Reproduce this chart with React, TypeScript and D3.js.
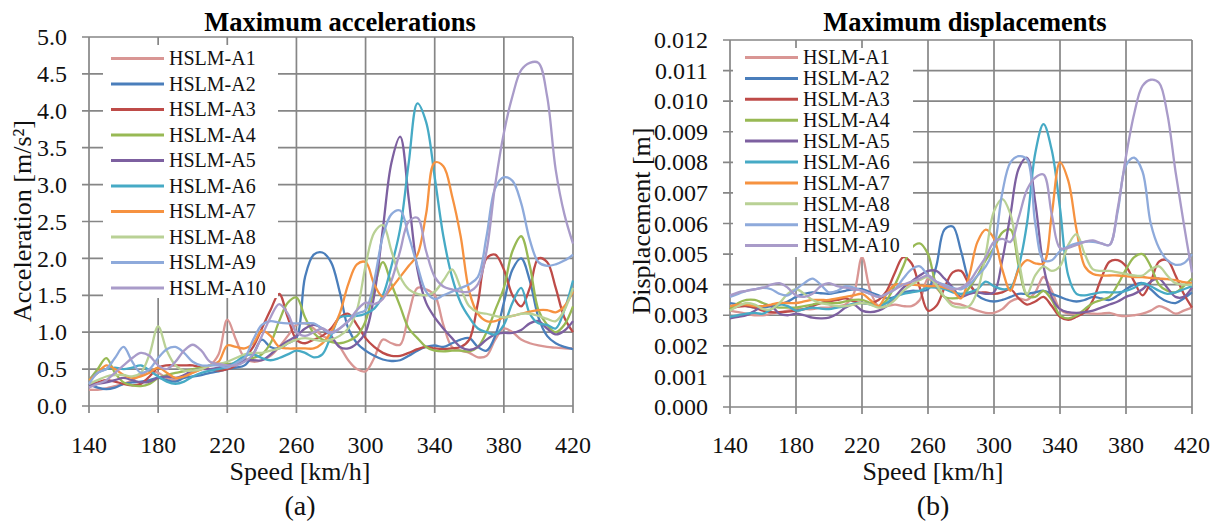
import { useEffect, useRef } from "react";
import * as d3 from "d3";

// speeds in km/h
const speeds = [
  140, 145, 150, 155, 160, 165, 170, 175,
  180, 185, 190, 195, 200, 205, 210, 215,
  220, 225, 230, 235, 240, 245, 250, 255,
  260, 265, 270, 275, 280, 285, 290, 295,
  300, 305, 310, 315, 320, 325, 330, 335,
  340, 345, 350, 355, 360, 365, 370, 375,
  380, 385, 390, 395, 400, 405, 410, 415,
  420,
];

const speedTicks = [140, 180, 220, 260, 300, 340, 380, 420];
const accTicks = [0, 0.5, 1.0, 1.5, 2.0, 2.5, 3.0, 3.5, 4.0, 4.5, 5.0];
const dispTicks = [0, 0.001, 0.002, 0.003, 0.004, 0.005, 0.006, 0.007, 0.008, 0.009, 0.01, 0.011, 0.012];

const seriesNames = [
  "HSLM-A1", "HSLM-A2", "HSLM-A3", "HSLM-A4", "HSLM-A5",
  "HSLM-A6", "HSLM-A7", "HSLM-A8", "HSLM-A9", "HSLM-A10",
];
const seriesColors = [
  "#d99694", "#4a7ebb", "#be4b48", "#98b954", "#7d60a0",
  "#46aac5", "#f69240", "#b9d195", "#8eaadb", "#a99bc9",
];

// maximum accelerations [m/s2]
const accA1 = [
  0.22, 0.22, 0.24, 0.27, 0.30, 0.35, 0.42, 0.48,
  0.45, 0.38, 0.35, 0.40, 0.45, 0.50, 0.55, 0.70,
  1.17, 0.90, 0.65, 0.60, 0.62, 0.68, 0.80, 0.95,
  1.10, 1.12, 1.05, 0.95, 0.90, 0.80, 0.62, 0.50,
  0.47, 0.65, 0.90, 0.85, 0.83, 1.25, 1.60, 1.58,
  1.50, 1.10, 0.80, 0.75, 0.72, 0.66, 0.68, 0.90,
  1.05, 1.00, 0.90, 0.85, 0.82, 0.80, 0.79, 0.78,
  0.78,
];
const accA2 = [
  0.30, 0.25, 0.23, 0.25, 0.30, 0.32, 0.33, 0.35,
  0.38, 0.35, 0.33, 0.38, 0.40, 0.42, 0.45, 0.47,
  0.50, 0.52, 0.55, 0.70, 0.90, 0.80, 0.78, 0.85,
  0.92, 1.75, 2.05, 2.08, 1.95, 1.55, 1.05, 0.85,
  0.75, 0.68, 0.63, 0.61, 0.62, 0.68, 0.75, 0.80,
  0.82, 0.80, 0.85, 0.90, 0.92, 0.80, 0.75, 0.95,
  1.40, 1.85, 2.00, 1.70, 1.20, 0.95, 0.85, 0.80,
  0.77,
];
const accA3 = [
  0.30, 0.32, 0.35, 0.33, 0.30, 0.28, 0.30, 0.40,
  0.52, 0.55, 0.55, 0.55, 0.55, 0.52, 0.50, 0.48,
  0.50, 0.55, 0.65, 0.80, 1.05, 1.30, 1.52, 1.20,
  0.90, 0.85, 0.90, 0.95, 1.05, 1.20, 1.25, 1.10,
  0.92, 0.80, 0.72, 0.68, 0.68, 0.72, 0.77, 0.80,
  0.78, 0.77, 0.78, 0.80, 0.90, 1.40, 2.00, 2.05,
  1.85, 1.50, 1.35, 1.60, 2.00, 1.95, 1.60, 1.20,
  1.00,
];
const accA4 = [
  0.35, 0.50, 0.65, 0.45, 0.32, 0.28, 0.27, 0.30,
  0.38, 0.42, 0.45, 0.47, 0.50, 0.52, 0.55, 0.57,
  0.57, 0.58, 0.62, 0.65, 0.70, 0.85, 1.15, 1.40,
  1.47, 1.20, 0.99, 0.90, 0.87, 0.85, 0.88, 0.95,
  1.15, 1.60, 1.95, 1.65, 1.35, 1.05, 0.92, 0.80,
  0.75, 0.74, 0.75, 0.75, 0.74, 0.80, 1.00, 1.30,
  1.60, 2.10, 2.30, 1.90, 1.30, 1.10, 1.00, 1.10,
  1.35,
];
const accA5 = [
  0.28, 0.30, 0.32, 0.35, 0.38, 0.35, 0.32, 0.33,
  0.38, 0.40, 0.38, 0.42, 0.48, 0.50, 0.50, 0.52,
  0.55, 0.58, 0.62, 0.62, 0.62, 0.70, 0.80, 0.88,
  0.95, 1.05, 1.10, 1.05, 0.95, 0.80, 0.78, 0.85,
  1.00, 1.50, 2.40, 3.30, 3.65, 2.80, 1.85, 1.40,
  1.20, 1.05, 0.92, 0.80, 0.76, 0.80, 0.90, 0.97,
  0.99, 0.99, 1.03, 1.12, 1.15, 1.05, 0.97, 1.02,
  1.15,
];
const accA6 = [
  0.35, 0.45, 0.50, 0.52, 0.50, 0.52, 0.55, 0.48,
  0.40, 0.33, 0.30, 0.33, 0.40, 0.45, 0.48, 0.50,
  0.53, 0.60, 0.68, 0.70, 0.65, 0.62, 0.65, 0.70,
  0.75, 0.72, 0.66, 0.70, 0.95, 1.20, 1.22, 1.22,
  1.25, 1.32, 1.50, 1.90, 2.40, 3.30, 4.10, 3.85,
  3.10, 2.30, 1.75, 1.40, 1.20, 1.05, 1.00, 0.97,
  1.10, 1.40, 1.60, 1.25, 1.12, 1.10, 1.05, 1.30,
  1.70,
];
const accA7 = [
  0.35, 0.45, 0.55, 0.50, 0.42, 0.38, 0.40, 0.45,
  0.52, 0.45, 0.38, 0.40, 0.45, 0.50, 0.55, 0.60,
  0.82, 0.80, 0.78, 0.85, 1.02, 0.95, 0.80, 0.78,
  0.78, 0.78, 0.78, 0.85, 1.00, 1.25, 1.65, 1.92,
  1.95, 1.65, 1.48, 1.60, 1.75, 1.90, 2.05, 2.60,
  3.30, 3.25, 2.85, 2.30, 1.55, 1.25, 1.15, 1.15,
  1.20, 1.22, 1.25, 1.28, 1.30, 1.30, 1.27, 1.35,
  1.55,
];
const accA8 = [
  0.30, 0.35, 0.40, 0.42, 0.42, 0.40, 0.45, 0.70,
  1.08, 0.75, 0.55, 0.48, 0.48, 0.50, 0.55, 0.57,
  0.60, 0.65, 0.70, 0.72, 0.72, 0.75, 0.78, 0.85,
  0.90, 0.92, 0.90, 0.88, 0.90, 0.95, 1.05, 1.30,
  1.90, 2.35, 2.45, 2.10, 1.75, 1.58, 1.52, 1.50,
  1.55, 1.70, 1.85, 1.60, 1.35, 1.27, 1.25, 1.22,
  1.20, 1.22, 1.25, 1.25, 1.22, 1.18, 1.15, 1.30,
  1.60,
];
const accA9 = [
  0.30, 0.45, 0.50, 0.65, 0.80, 0.60, 0.45, 0.50,
  0.65, 0.77, 0.80, 0.72, 0.60, 0.55, 0.55, 0.55,
  0.52, 0.58, 0.65, 0.90, 1.10, 1.15, 1.13, 1.12,
  1.12, 1.12, 1.12, 1.05, 0.98, 1.05, 1.15, 1.25,
  1.30, 1.70, 2.30, 2.60, 2.65, 2.30, 1.90, 1.55,
  1.45, 1.50, 1.55, 1.60, 1.65, 1.75, 2.30, 2.95,
  3.10, 3.05, 2.75, 2.25, 1.95, 1.90, 1.92, 1.97,
  2.05,
];
const accA10 = [
  0.25, 0.30, 0.35, 0.45, 0.55, 0.65, 0.72, 0.68,
  0.55, 0.50, 0.60, 0.75, 0.83, 0.75, 0.60, 0.57,
  0.55, 0.55, 0.60, 0.70, 0.95, 1.20, 1.38, 1.25,
  1.00, 0.95, 1.00, 1.05, 1.00, 1.05, 1.15, 1.30,
  1.40, 1.38, 1.45, 1.70, 2.10, 2.50, 2.55, 2.10,
  1.75, 1.62, 1.58, 1.55, 1.55, 1.65, 2.10, 3.00,
  3.70, 4.20, 4.55, 4.65, 4.65, 4.20, 3.20, 2.60,
  2.20,
];

// maximum displacements [m]
const dispA1 = [
  0.00315, 0.0031, 0.00305, 0.003, 0.003, 0.00305, 0.0031, 0.00315,
  0.0032, 0.0032, 0.0032, 0.00325, 0.00325, 0.0033, 0.00335, 0.0037,
  0.0049, 0.0038, 0.0033, 0.0033, 0.00335, 0.0033, 0.0033, 0.0035,
  0.0042, 0.0039, 0.0036, 0.0034, 0.00335, 0.00325, 0.00315, 0.00308,
  0.00308, 0.0032, 0.00345, 0.00355, 0.0035, 0.00375, 0.00425, 0.0038,
  0.0032, 0.00305, 0.00305, 0.00308, 0.00305, 0.00305, 0.00308, 0.003,
  0.00297, 0.003, 0.00305, 0.00315, 0.0033, 0.0032, 0.00305, 0.00315,
  0.00325,
];
const dispA2 = [
  0.0034, 0.00335, 0.0033, 0.00325, 0.00325, 0.0033, 0.00335, 0.00345,
  0.0036, 0.0037, 0.00375, 0.00372, 0.0037, 0.00375, 0.0038, 0.00385,
  0.00385, 0.00375, 0.00365, 0.00355, 0.0036, 0.00375, 0.0038, 0.0038,
  0.00385, 0.0046, 0.0058, 0.0059, 0.0051, 0.0041, 0.00365, 0.0035,
  0.00345, 0.0035, 0.0036, 0.0037, 0.0037, 0.00375, 0.0038, 0.0037,
  0.0036, 0.0035, 0.00345, 0.0035, 0.0036, 0.00355, 0.0035, 0.00365,
  0.00385, 0.004, 0.00405, 0.00385, 0.0036, 0.00345, 0.0034, 0.00355,
  0.00375,
];
const dispA3 = [
  0.0032, 0.00328, 0.0033, 0.00325, 0.00315, 0.0031, 0.0031, 0.00312,
  0.00315, 0.0032, 0.0033, 0.0034, 0.00345, 0.0035, 0.00355, 0.00345,
  0.0034, 0.0034, 0.0035, 0.0038, 0.0044, 0.0049, 0.0047, 0.0039,
  0.00315, 0.0033, 0.0039, 0.0044, 0.00445, 0.004, 0.00375, 0.00375,
  0.0037, 0.00375, 0.00385, 0.00355, 0.00335, 0.00345, 0.0036, 0.0033,
  0.00295, 0.00285, 0.00295, 0.0031, 0.0035, 0.0042, 0.00475, 0.0048,
  0.0046, 0.0041, 0.00365, 0.0041, 0.00475, 0.0048, 0.0043, 0.0037,
  0.00325,
];
const dispA4 = [
  0.0032, 0.0034, 0.0035, 0.0035, 0.0034, 0.0033, 0.00325, 0.00325,
  0.00325, 0.0033, 0.00335, 0.0034, 0.0034, 0.0034, 0.00345, 0.0035,
  0.0035, 0.0034, 0.0033, 0.0035, 0.004, 0.0046, 0.0052, 0.00535,
  0.005, 0.004, 0.0036, 0.00355, 0.0036, 0.0039, 0.0043, 0.0048,
  0.0052, 0.0057, 0.0058, 0.0046, 0.00365, 0.0036, 0.0038, 0.0035,
  0.003, 0.0029, 0.003, 0.0032, 0.0034, 0.0035, 0.0036, 0.004,
  0.0045, 0.0049, 0.005, 0.0046, 0.004, 0.0038, 0.00375, 0.00395,
  0.0042,
];
const dispA5 = [
  0.0029, 0.00295, 0.003, 0.00315, 0.0033, 0.0033, 0.00305, 0.003,
  0.00305, 0.003, 0.00292, 0.0029, 0.00292, 0.00305, 0.00325, 0.00335,
  0.00315, 0.0031, 0.00315, 0.0033, 0.0036, 0.0039, 0.0041, 0.0043,
  0.00445, 0.00445, 0.0042, 0.0039, 0.0036, 0.0037, 0.00375, 0.0037,
  0.00375, 0.0048, 0.0063, 0.0078, 0.00815, 0.0067, 0.0046, 0.0036,
  0.0032, 0.0031, 0.00308, 0.0031, 0.00315, 0.00325, 0.00335, 0.00345,
  0.0036, 0.0037, 0.00385, 0.0041, 0.0042, 0.0039, 0.0036, 0.0036,
  0.0039,
];
const dispA6 = [
  0.00295, 0.003, 0.00305, 0.00308, 0.00305, 0.0032, 0.00335, 0.0033,
  0.00315, 0.0032, 0.00325, 0.00322, 0.0032, 0.00325, 0.0033, 0.00338,
  0.0034, 0.00335, 0.0033, 0.0034, 0.0036, 0.0037, 0.00375, 0.0038,
  0.0039, 0.0039, 0.00385, 0.00375, 0.0037, 0.00375, 0.00385, 0.0041,
  0.00395, 0.00385, 0.0039, 0.0046, 0.006, 0.0083, 0.00925, 0.0084,
  0.0065, 0.0043, 0.0037, 0.00365, 0.0037, 0.00375, 0.00375, 0.00375,
  0.0038, 0.0039, 0.00405, 0.00395, 0.0038, 0.0037, 0.00375, 0.00385,
  0.00395,
];
const dispA7 = [
  0.0033, 0.00335, 0.00335, 0.0033, 0.0033, 0.00335, 0.0034, 0.0034,
  0.0034, 0.00345, 0.0035, 0.0035, 0.0035, 0.00355, 0.0036, 0.00365,
  0.0037, 0.0035, 0.0033, 0.0037, 0.004, 0.004, 0.004, 0.00398,
  0.00395, 0.00395, 0.0039, 0.0038, 0.00355, 0.0043, 0.0054, 0.0058,
  0.0055, 0.0045, 0.0038, 0.0045, 0.0048, 0.0047, 0.0047, 0.0063,
  0.008, 0.0074, 0.0058, 0.0046, 0.00435, 0.0043, 0.0043, 0.0043,
  0.00428, 0.00425, 0.00425, 0.00422, 0.0042, 0.00418, 0.00415, 0.00408,
  0.00405,
];
const dispA8 = [
  0.00315, 0.0033, 0.0034, 0.00335, 0.0032, 0.0032, 0.0034, 0.0037,
  0.00385, 0.0037, 0.0035, 0.0034, 0.00335, 0.0033, 0.0033, 0.00335,
  0.0034, 0.00335, 0.00325, 0.0033, 0.0035, 0.0038, 0.004, 0.00415,
  0.00425, 0.004, 0.0036, 0.0033, 0.00325, 0.0033, 0.0038, 0.005,
  0.0064, 0.0068, 0.0063, 0.0048, 0.0037, 0.0043, 0.0046, 0.00445,
  0.0046, 0.0053, 0.00565, 0.005, 0.0045, 0.00445, 0.00445, 0.0044,
  0.00435, 0.0043, 0.0043, 0.0045, 0.0046, 0.0043, 0.00405, 0.004,
  0.004,
];
const dispA9 = [
  0.0036, 0.0037, 0.0038, 0.00385, 0.0039, 0.00385, 0.0037, 0.00365,
  0.00385, 0.00405, 0.0042, 0.004, 0.00375, 0.0038, 0.00395, 0.0039,
  0.0038, 0.0037, 0.0036, 0.0037, 0.00385, 0.0042, 0.0045, 0.0046,
  0.0043, 0.0041, 0.004, 0.0039, 0.00385, 0.004, 0.0043, 0.0046,
  0.0052, 0.007, 0.008, 0.0082, 0.0081, 0.006, 0.0048, 0.0048,
  0.0051, 0.00525, 0.00535, 0.0054, 0.0054, 0.00535, 0.0053, 0.0064,
  0.0079, 0.00815, 0.0077, 0.006, 0.0052, 0.0048, 0.00465, 0.0047,
  0.005,
];
const dispA10 = [
  0.00365, 0.00375, 0.0038, 0.00385, 0.0039, 0.004, 0.00405, 0.0039,
  0.00365, 0.0036, 0.0037, 0.00395, 0.00405, 0.00395, 0.0039, 0.00385,
  0.0038, 0.0037, 0.0036, 0.0037, 0.00385, 0.004, 0.0041, 0.0042,
  0.0043, 0.0041, 0.00395, 0.00385, 0.0039, 0.0041, 0.0045, 0.0049,
  0.0054, 0.0055, 0.0054, 0.0062, 0.0071, 0.0075, 0.0076, 0.0063,
  0.0052, 0.0052, 0.0053, 0.0054, 0.00545, 0.00535, 0.0053, 0.0065,
  0.0082, 0.0096, 0.0105, 0.0107, 0.0106, 0.0096, 0.0077, 0.006,
  0.0044,
];

const accSeries = [accA1, accA2, accA3, accA4, accA5, accA6, accA7, accA8, accA9, accA10];
const dispSeries = [dispA1, dispA2, dispA3, dispA4, dispA5, dispA6, dispA7, dispA8, dispA9, dispA10];

const FONT = "'Liberation Serif', 'Times New Roman', serif";
const GRID = "#868686";

type Panel = {
  left: number;
  right: number;
  top: number;
  bottom: number;
  yMax: number;
  yTicks: number[];
  yFormat: (v: number) => string;
  series: number[][];
  title: string;
  titleX: number;
  yLabel: string;
  yLabelX: number;
  xLabelX: number;
  tag: string;
  legend: { x: number; y: number; w: number; h: number; lineX: number; rowY: number; rowStep: number };
};

function drawPanel(svg: d3.Selection<SVGSVGElement, unknown, null, undefined>, p: Panel) {
  const x = d3.scaleLinear().domain([140, 420]).range([p.left, p.right]);
  const y = d3.scaleLinear().domain([0, p.yMax]).range([p.bottom, p.top]);
  const g = svg.append("g");

  // grid + ticks
  g.selectAll("line.hgrid")
    .data(p.yTicks)
    .join("line")
    .attr("x1", p.left - 7)
    .attr("x2", p.right)
    .attr("y1", (d) => y(d))
    .attr("y2", (d) => y(d))
    .attr("stroke", GRID)
    .attr("stroke-width", 1.7);

  g.selectAll("line.vgrid")
    .data(speedTicks)
    .join("line")
    .attr("x1", (d) => x(d))
    .attr("x2", (d) => x(d))
    .attr("y1", p.top)
    .attr("y2", p.bottom + 7)
    .attr("stroke", GRID)
    .attr("stroke-width", 1.7);

  // tick labels
  g.selectAll("text.ylab")
    .data(p.yTicks)
    .join("text")
    .attr("x", p.left - 22)
    .attr("y", (d) => y(d))
    .attr("dy", "0.34em")
    .attr("text-anchor", "end")
    .attr("font-family", FONT)
    .attr("font-size", 24)
    .attr("fill", "#111")
    .text((d) => p.yFormat(d));

  g.selectAll("text.xlab")
    .data(speedTicks)
    .join("text")
    .attr("x", (d) => x(d))
    .attr("y", 453)
    .attr("text-anchor", "middle")
    .attr("font-family", FONT)
    .attr("font-size", 24)
    .attr("fill", "#111")
    .text((d) => String(d));

  // series
  const line = d3
    .line<number>()
    .x((_, i) => x(speeds[i]))
    .y((d) => y(d))
    .curve(d3.curveCatmullRom.alpha(0.5));

  p.series.forEach((vals, i) => {
    g.append("path")
      .attr("d", line(vals) ?? "")
      .attr("fill", "none")
      .attr("stroke", seriesColors[i])
      .attr("stroke-width", 2.3)
      .attr("stroke-linejoin", "round");
  });

  // legend
  const L = p.legend;
  g.append("rect")
    .attr("x", L.x)
    .attr("y", L.y)
    .attr("width", L.w)
    .attr("height", L.h)
    .attr("fill", "white");

  seriesNames.forEach((name, i) => {
    const cy = L.rowY + i * L.rowStep;
    g.append("line")
      .attr("x1", L.lineX)
      .attr("x2", L.lineX + 53)
      .attr("y1", cy)
      .attr("y2", cy)
      .attr("stroke", seriesColors[i])
      .attr("stroke-width", 3);
    g.append("text")
      .attr("x", L.lineX + 58)
      .attr("y", cy)
      .attr("dy", "0.34em")
      .attr("font-family", FONT)
      .attr("font-size", 20)
      .attr("fill", "#111")
      .text(name);
  });

  // titles
  g.append("text")
    .attr("x", p.titleX)
    .attr("y", 31)
    .attr("text-anchor", "middle")
    .attr("font-family", FONT)
    .attr("font-weight", "bold")
    .attr("font-size", 26.5)
    .text(p.title);

  g.append("text")
    .attr("transform", `translate(${p.yLabelX},221) rotate(-90)`)
    .attr("text-anchor", "middle")
    .attr("font-family", FONT)
    .attr("font-size", 26)
    .attr("fill", "#111")
    .text(p.yLabel);

  g.append("text")
    .attr("x", p.xLabelX)
    .attr("y", 480)
    .attr("text-anchor", "middle")
    .attr("font-family", FONT)
    .attr("font-size", 26)
    .attr("fill", "#111")
    .text("Speed [km/h]");

  g.append("text")
    .attr("x", p.xLabelX)
    .attr("y", 515)
    .attr("text-anchor", "middle")
    .attr("font-family", FONT)
    .attr("font-size", 28)
    .attr("fill", "#111")
    .text(p.tag);
}

export default function App() {
  const svgRef = useRef<SVGSVGElement | null>(null);

  useEffect(() => {
    if (!svgRef.current) return;
    const svg = d3.select(svgRef.current);
    svg.selectAll("*").remove();

    svg.append("rect").attr("width", 1220).attr("height", 523).attr("fill", "white");

    drawPanel(svg, {
      left: 89,
      right: 573,
      top: 37,
      bottom: 406,
      yMax: 5,
      yTicks: accTicks,
      yFormat: d3.format(".1f"),
      series: accSeries,
      title: "Maximum accelerations",
      titleX: 340,
      yLabel: "Acceleration [m/s²]",
      yLabelX: 31,
      xLabelX: 300,
      tag: "(a)",
      legend: { x: 103, y: 45, w: 175, h: 253, lineX: 111, rowY: 58.5, rowStep: 25.5 },
    });

    drawPanel(svg, {
      left: 730,
      right: 1192,
      top: 40,
      bottom: 407,
      yMax: 0.012,
      yTicks: dispTicks,
      yFormat: d3.format(".3f"),
      series: dispSeries,
      title: "Maximum displacements",
      titleX: 965,
      yLabel: "Displacement [m]",
      yLabelX: 650,
      xLabelX: 933,
      tag: "(b)",
      legend: { x: 733, y: 48, w: 180, h: 209, lineX: 745, rowY: 57.5, rowStep: 20.9 },
    });
  }, []);

  return (
    <svg
      ref={svgRef}
      width={1220}
      height={523}
      style={{ position: "absolute", left: 0, top: 0, display: "block" }}
    />
  );
}
